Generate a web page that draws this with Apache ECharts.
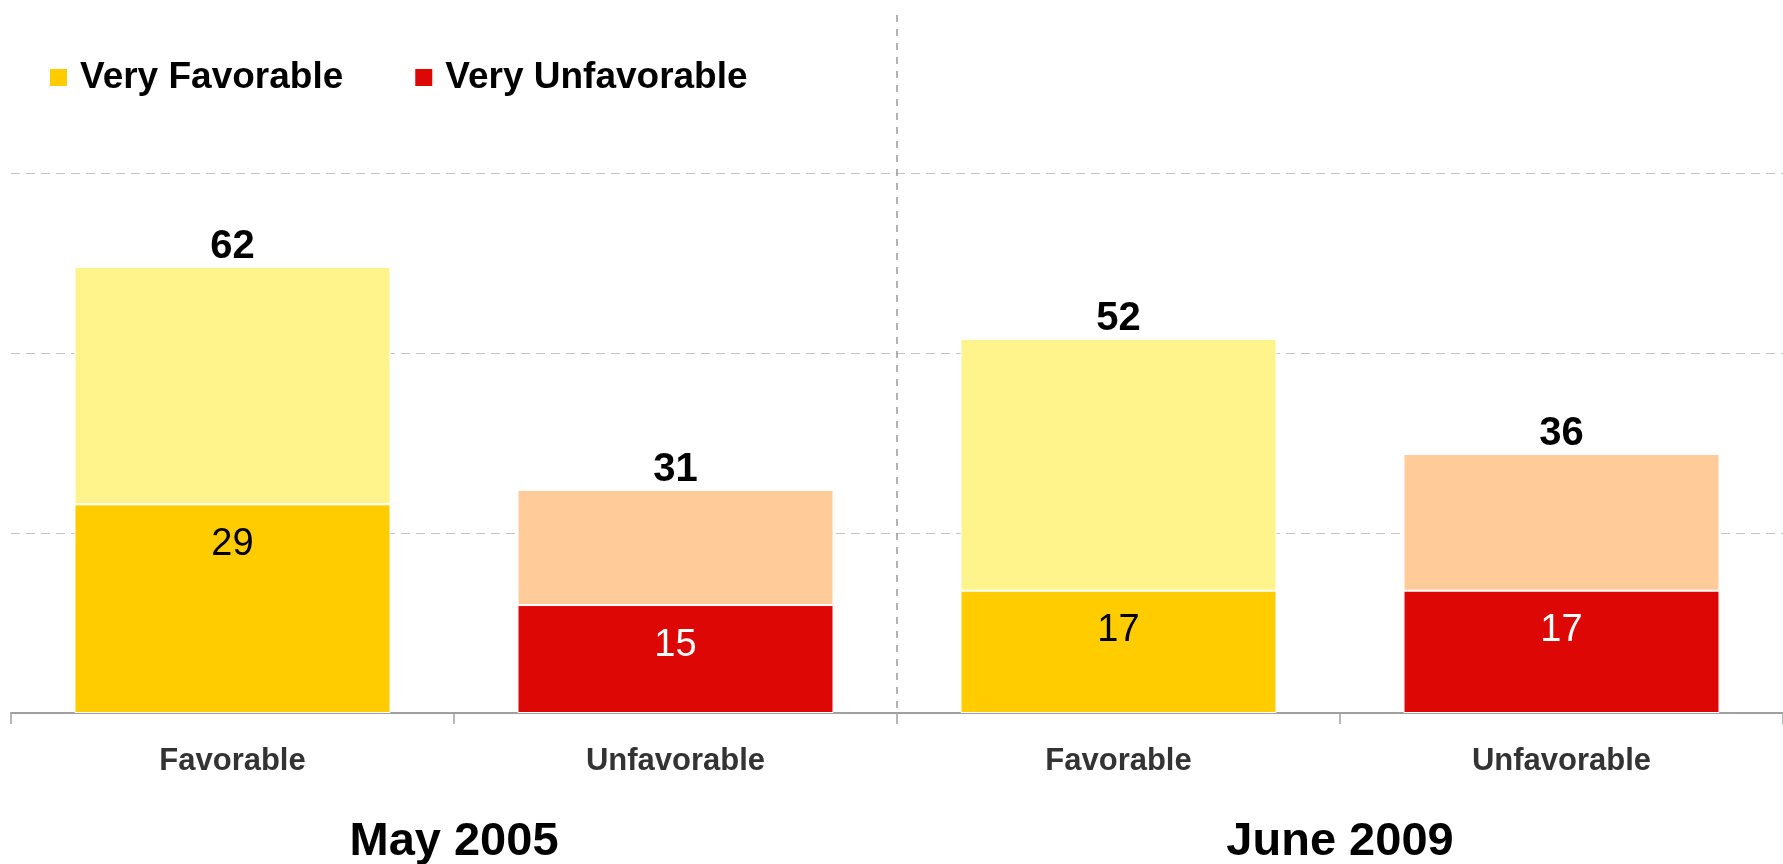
<!DOCTYPE html>
<html><head><meta charset="utf-8">
<script src="https://cdn.jsdelivr.net/npm/echarts@6/dist/echarts.min.js"></script>
<style>html,body{margin:0;padding:0;background:#fff}#c{width:1783px;height:864px}</style>
</head><body><div id="c"></div>
<script>
const categories = ['Favorable', 'Unfavorable', 'Favorable', 'Unfavorable'];
const periods = ['May 2005', 'June 2009'];
const veryFavorable = [29, '-', 17, '-'];
const veryUnfavorable = ['-', 15, '-', 17];
const totalFavorable = [62, '-', 52, '-'];
const totalUnfavorable = ['-', 31, '-', 36];
const legendNames = ['Very Favorable', 'Very Unfavorable'];

const FONT = '"Liberation Sans", Arial, sans-serif';
function rest(total, very) {
  return total.map((t, i) => (t === '-' ? '-' : t - very[i]));
}
const restFavorable = rest(totalFavorable, veryFavorable);
const restUnfavorable = rest(totalUnfavorable, veryUnfavorable);

const innerLabel = (color) => ({
  show: true, position: 'insideTop', distance: 21,
  color: color, fontFamily: FONT, fontSize: 38, lineHeight: 38, fontWeight: 'normal'
});
const topLabel = (totals) => ({
  show: true, position: 'top', distance: 0,
  color: '#000', fontFamily: FONT, fontSize: 40, lineHeight: 40, fontWeight: 'bold',
  formatter: (p) => String(totals[p.dataIndex])
});

const chart = echarts.init(document.getElementById('c'), null, {renderer: 'canvas'});
chart.setOption({
  animation: false,
  backgroundColor: '#fff',
  legend: {
    data: legendNames,
    left: 48, top: 59, padding: 0,
    icon: 'rect', itemWidth: 19, itemHeight: 19, itemGap: 70,
    textStyle: {fontFamily: FONT, fontSize: 37, fontWeight: 'bold', color: '#000', lineHeight: 37, padding: [0, 0, 0, 7]}
  },
  grid: {left: 11, right: 0, top: 15, bottom: 151, containLabel: false, outerBoundsMode: 'none'},
  xAxis: [
    {
      type: 'category', data: categories, position: 'bottom',
      axisLine: {show: true, lineStyle: {color: '#a0a0a0', width: 2}},
      axisTick: {show: true, length: 11, lineStyle: {color: '#a0a0a0', width: 1.5}},
      axisLabel: {fontFamily: FONT, fontSize: 31, lineHeight: 31, fontWeight: 'bold', color: '#333', margin: 33},
      splitLine: {show: false}
    },
    {
      type: 'category', data: periods, position: 'bottom',
      axisLine: {show: false}, axisTick: {show: false},
      axisLabel: {fontFamily: FONT, fontSize: 47, lineHeight: 47, fontWeight: 'bold', color: '#000', margin: 106},
      splitLine: {show: true, showMinLine: false, showMaxLine: false, lineStyle: {color: '#999', width: 1.5, type: [7, 7]}}
    }
  ],
  yAxis: {
    type: 'value', min: 0, max: 97, interval: 25,
    axisLine: {show: false}, axisTick: {show: false}, axisLabel: {show: false},
    splitLine: {show: true, showMinLine: false, showMaxLine: false, lineStyle: {color: '#c4c4c4', width: 1.2, type: [9, 6]}}
  },
  series: [
    {name: 'Very Favorable', type: 'bar', stack: 'a', barWidth: 316, data: veryFavorable,
     itemStyle: {color: '#ffcc00', borderColor: '#fff', borderWidth: 1}, label: innerLabel('#000')},
    {name: 'Very Unfavorable', type: 'bar', stack: 'a', barWidth: 316, data: veryUnfavorable,
     itemStyle: {color: '#dd0806', borderColor: '#fff', borderWidth: 1}, label: innerLabel('#fff')},
    {name: 'Favorable rest', type: 'bar', stack: 'a', barWidth: 316, data: restFavorable,
     itemStyle: {color: '#fff48c', borderColor: '#fff', borderWidth: 1}, label: topLabel(totalFavorable)},
    {name: 'Unfavorable rest', type: 'bar', stack: 'a', barWidth: 316, data: restUnfavorable,
     itemStyle: {color: '#ffcc99', borderColor: '#fff', borderWidth: 1}, label: topLabel(totalUnfavorable)}
  ]
});
</script>
</body></html>
